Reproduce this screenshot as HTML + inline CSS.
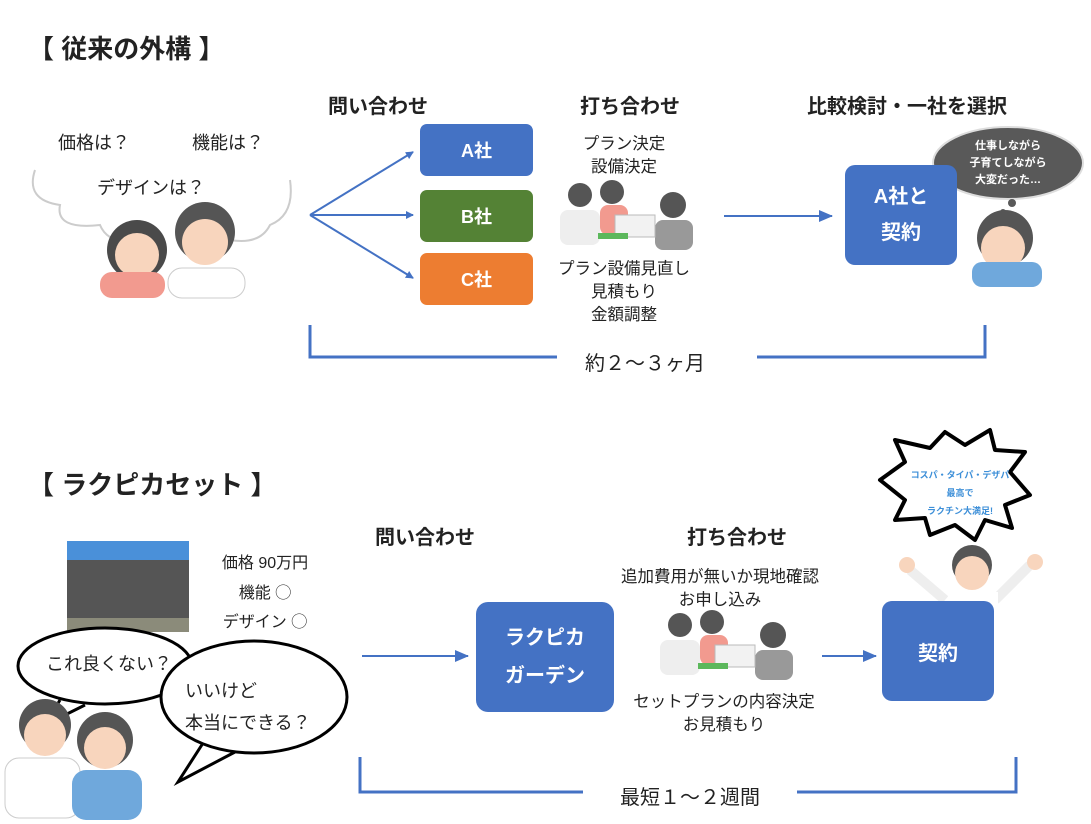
<!DOCTYPE html>
<html><head><meta charset="utf-8"><style>
body{margin:0;width:1091px;height:824px;background:#fff;position:relative;overflow:hidden;font-family:"Liberation Sans","Noto Sans CJK JP",sans-serif;color:#222}
.t{position:absolute;white-space:nowrap}
.c{transform:translateX(-50%);text-align:center}
.h{font-weight:bold;font-size:20px}
.box{position:absolute;color:#fff;font-weight:bold;display:flex;align-items:center;justify-content:center;text-align:center;border-radius:7px}
.s{font-size:16.5px;line-height:23px}
</style></head><body>
<svg width="1091" height="824" style="position:absolute;left:0;top:0">
<defs><marker id="a" markerWidth="8" markerHeight="8" refX="7" refY="4" orient="auto" markerUnits="userSpaceOnUse"><path d="M0,0 L8,4 L0,8z" fill="#4472c4"/></marker>
<marker id="b" markerWidth="14" markerHeight="12" refX="13" refY="6" orient="auto" markerUnits="userSpaceOnUse"><path d="M0,0 L14,6 L0,12z" fill="#4472c4"/></marker></defs>
<path d="M35,170 Q25,200 60,205 Q55,230 100,225 Q110,250 160,240 M230,240 Q260,245 270,225 Q295,215 290,180" fill="none" stroke="#ccc" stroke-width="2"/>
<circle cx="137" cy="250" r="30" fill="#4a4a4a"/><circle cx="137" cy="255" r="22" fill="#f8d5bd"/><rect x="100" y="272" width="65" height="26" rx="12" fill="#f29a8f"/>
<circle cx="205" cy="232" r="30" fill="#555"/><circle cx="205" cy="242" r="23" fill="#f8d5bd"/><rect x="168" y="268" width="77" height="30" rx="14" fill="#fff" stroke="#ccc"/>
<g stroke="#4472c4" stroke-width="2" fill="none">
<line x1="310" y1="215" x2="413" y2="152" marker-end="url(#a)"/>
<line x1="310" y1="215" x2="413" y2="215" marker-end="url(#a)"/>
<line x1="310" y1="215" x2="413" y2="278" marker-end="url(#a)"/>
<line x1="724" y1="216" x2="832" y2="216" marker-end="url(#b)"/>
<line x1="362" y1="656" x2="468" y2="656" marker-end="url(#b)"/>
<line x1="822" y1="656" x2="876" y2="656" marker-end="url(#b)"/>
</g>
<g stroke="#4472c4" stroke-width="3" fill="none">
<path d="M310,325 V357 H557 M757,357 H985 V325"/>
<path d="M360,757 V792 H583 M797,792 H1016 V757"/>
</g>
<g><circle cx="580" cy="195" r="12" fill="#555"/><circle cx="612" cy="192" r="12" fill="#555"/><circle cx="673" cy="205" r="13" fill="#555"/>
<rect x="560" y="210" width="40" height="35" rx="8" fill="#eee"/><rect x="600" y="205" width="28" height="30" rx="8" fill="#f29a8f"/><rect x="655" y="220" width="38" height="30" rx="8" fill="#999"/>
<rect x="615" y="215" width="40" height="22" fill="#f2f2f2" stroke="#bbb"/><rect x="598" y="233" width="30" height="6" fill="#5cb85c"/></g>
<g transform="translate(100,430)"><circle cx="580" cy="195" r="12" fill="#555"/><circle cx="612" cy="192" r="12" fill="#555"/><circle cx="673" cy="205" r="13" fill="#555"/>
<rect x="560" y="210" width="40" height="35" rx="8" fill="#eee"/><rect x="600" y="205" width="28" height="30" rx="8" fill="#f29a8f"/><rect x="655" y="220" width="38" height="30" rx="8" fill="#999"/>
<rect x="615" y="215" width="40" height="22" fill="#f2f2f2" stroke="#bbb"/><rect x="598" y="233" width="30" height="6" fill="#5cb85c"/></g>
<ellipse cx="1008" cy="163" rx="75" ry="36" fill="#595959" stroke="#ddd" stroke-width="2"/>
<circle cx="1012" cy="203" r="4" fill="#595959"/><circle cx="1003" cy="212" r="3" fill="#595959"/>
<circle cx="1005" cy="238" r="28" fill="#555"/><circle cx="1003" cy="248" r="22" fill="#f8d5bd"/><rect x="972" y="262" width="70" height="25" rx="10" fill="#6fa8dc"/>
<rect x="67" y="541" width="122" height="91" fill="#4a90d9"/><rect x="67" y="560" width="122" height="60" fill="#555"/><rect x="67" y="618" width="122" height="14" fill="#8b8b7a"/>
<path d="M60,700 L45,725 L85,705" fill="#fff" stroke="#000" stroke-width="3"/>
<ellipse cx="105" cy="666" rx="87" ry="38" fill="#fff" stroke="#000" stroke-width="3"/>
<path d="M205,740 L178,782 L235,752" fill="#fff" stroke="#000" stroke-width="3"/>
<ellipse cx="254" cy="697" rx="93" ry="56" fill="#fff" stroke="#000" stroke-width="3"/>
<circle cx="45" cy="725" r="26" fill="#555"/><circle cx="45" cy="735" r="21" fill="#f8d5bd"/><rect x="5" y="758" width="75" height="60" rx="14" fill="#fff" stroke="#ccc"/>
<circle cx="105" cy="740" r="28" fill="#555"/><circle cx="105" cy="748" r="21" fill="#f8d5bd"/><rect x="72" y="770" width="70" height="50" rx="14" fill="#6fa8dc"/>
<path d="M880,480 L905,462 L895,440 L930,448 L945,432 L965,445 L990,430 L995,450 L1025,452 L1010,472 L1030,495 L1005,505 L1012,528 L985,520 L975,540 L955,525 L930,535 L925,518 L895,520 L905,500 Z" fill="#fff" stroke="#000" stroke-width="4" stroke-linejoin="round"/>
<path d="M910,570 L945,600 M1030,565 L995,600" stroke="#eee" stroke-width="10"/>
<circle cx="907" cy="565" r="8" fill="#f8d5bd"/><circle cx="1035" cy="562" r="8" fill="#f8d5bd"/>
<circle cx="972" cy="565" r="20" fill="#555"/><circle cx="972" cy="573" r="17" fill="#f8d5bd"/>
<rect x="948" y="592" width="50" height="30" fill="#fff"/>
</svg>
<div class="t" style="left:28px;top:29px;font-size:26px;font-weight:bold">【 従来の外構 】</div>
<div class="t c h" style="left:378px;top:90px">問い合わせ</div>
<div class="t c h" style="left:630px;top:90px">打ち合わせ</div>
<div class="t c h" style="left:907px;top:90px">比較検討・一社を選択</div>
<div class="t" style="left:58px;top:129px;font-size:18px">価格は？</div>
<div class="t" style="left:192px;top:129px;font-size:18px">機能は？</div>
<div class="t" style="left:97px;top:174px;font-size:18px">デザインは？</div>
<div class="box" style="left:420px;top:124px;width:113px;height:52px;background:#4472c4;font-size:18px">A社</div>
<div class="box" style="left:420px;top:190px;width:113px;height:52px;background:#548235;font-size:18px">B社</div>
<div class="box" style="left:420px;top:253px;width:113px;height:52px;background:#ed7d31;font-size:18px">C社</div>
<div class="t c s" style="left:624px;top:133px">プラン決定<br>設備決定</div>
<div class="t c s" style="left:624px;top:258px">プラン設備見直し<br>見積もり<br>金額調整</div>
<div class="box" style="left:845px;top:165px;width:112px;height:100px;background:#4472c4;font-size:20px;line-height:36px;border-radius:10px">A社と<br>契約</div>
<div class="t c" style="left:1008px;top:138px;color:#fff;font-size:11px;font-weight:bold;line-height:17px">仕事しながら<br>子育てしながら<br>大変だった…</div>
<div class="t c" style="left:645px;top:347px;font-size:20px">約２〜３ヶ月</div>

<div class="t" style="left:28px;top:465px;font-size:26px;font-weight:bold">【 ラクピカセット 】</div>
<div class="t c h" style="left:425px;top:521px">問い合わせ</div>
<div class="t c h" style="left:737px;top:521px">打ち合わせ</div>
<div class="t c" style="left:265px;top:549px;font-size:16px;line-height:29.5px">価格 90万円<br>機能 ◯<br>デザイン ◯</div>
<div class="t" style="left:46px;top:650px;font-size:18px">これ良くない？</div>
<div class="t" style="left:185px;top:675px;font-size:18px;line-height:32px">いいけど<br>本当にできる？</div>
<div class="t c s" style="left:720px;top:566px">追加費用が無いか現地確認<br>お申し込み</div>
<div class="t c s" style="left:724px;top:691px">セットプランの内容決定<br>お見積もり</div>
<div class="box" style="left:476px;top:602px;width:138px;height:110px;background:#4472c4;font-size:20px;line-height:38px;border-radius:12px">ラクピカ<br>ガーデン</div>
<div class="box" style="left:882px;top:601px;width:112px;height:100px;background:#4472c4;font-size:20px;border-radius:10px">契約</div>
<div class="t c" style="left:960px;top:466px;color:#3d8fd8;font-size:9px;font-weight:bold;line-height:18px">コスパ・タイパ・デザパ<br>最高で<br>ラクチン大満足!</div>
<div class="t c" style="left:690px;top:781px;font-size:20px">最短１〜２週間</div>
</body></html>
